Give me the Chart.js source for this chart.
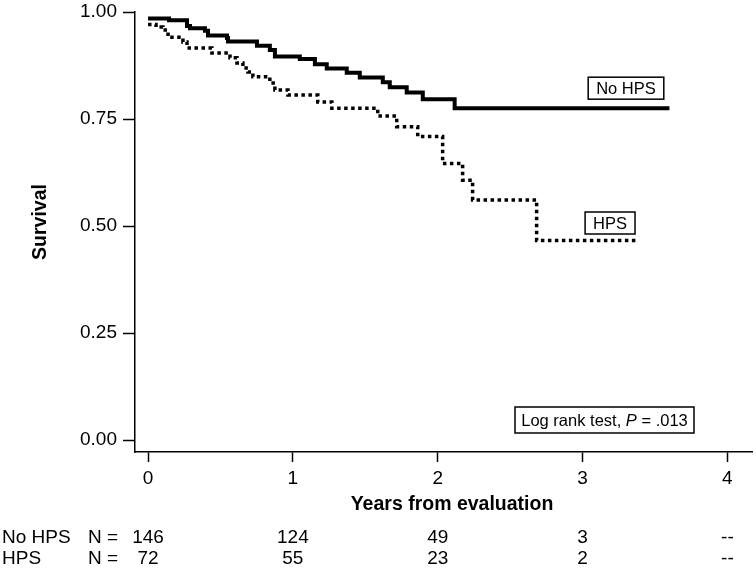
<!DOCTYPE html>
<html>
<head>
<meta charset="utf-8">
<script src="https://cdn.jsdelivr.net/npm/chart.js@4"></script>
<style>
  html, body { margin: 0; padding: 0; background: #fff; }
</style>
</head>
<body>
<canvas id="kmChart" width="756" height="570"></canvas>
<script>
// Kaplan-Meier steps (years from evaluation, survival)
var noHpsTimes = [0, 0.145, 0.269, 0.29, 0.393, 0.414, 0.545, 0.552, 0.752, 0.841, 0.876, 1.048, 1.152, 1.234, 1.372, 1.462, 1.621, 1.669, 1.786, 1.897, 2.117, 3.6];
var noHpsSurv = [0.985, 0.981, 0.967, 0.962, 0.956, 0.945, 0.939, 0.931, 0.921, 0.911, 0.896, 0.890, 0.878, 0.868, 0.858, 0.847, 0.836, 0.824, 0.812, 0.796, 0.775, 0.775];
var hpsTimes = [0, 0.055, 0.103, 0.138, 0.241, 0.269, 0.441, 0.566, 0.614, 0.655, 0.690, 0.724, 0.841, 0.876, 0.966, 1.172, 1.269, 1.586, 1.717, 1.862, 2.034, 2.172, 2.241, 2.683, 3.372];
var hpsSurv = [0.971, 0.965, 0.958, 0.941, 0.930, 0.916, 0.904, 0.893, 0.881, 0.869, 0.860, 0.849, 0.834, 0.818, 0.806, 0.790, 0.775, 0.757, 0.732, 0.709, 0.646, 0.607, 0.561, 0.466, 0.466];

// axes
var xTicks = [0, 1, 2, 3, 4];
var yTicks = [0, 0.25, 0.5, 0.75, 1];

// numbers at risk
var riskTimes = [0, 1, 2, 3, 4];
var riskNoHps = ['146', '124', '49', '3', '--'];
var riskHps = ['72', '55', '23', '2', '--'];

var family = "'Liberation Sans', Arial, Helvetica, sans-serif";

function toPoints(ts, vs) {
    return ts.map(function (t, i) { return { x: t, y: vs[i] }; });
}

function labelBox(c, text, cx, cy, h) {
    c.font = '16.5px ' + family;
    var w = c.measureText(text).width + 16;
    c.fillStyle = '#fff';
    c.fillRect(cx - w / 2, cy - h / 2, w, h);
    c.strokeStyle = '#000';
    c.lineWidth = 1.5;
    c.strokeRect(cx - w / 2, cy - h / 2, w, h);
    c.fillStyle = '#000';
    c.textAlign = 'center';
    c.textBaseline = 'middle';
    c.fillText(text, cx, cy + 1);
}

// titles, labels, log rank box and the at-risk table
var overlay = {
    id: 'overlay',
    afterDraw: function (chart) {
        var c = chart.ctx;
        var xs = chart.scales.x;
        var ys = chart.scales.y;
        c.save();
        c.fillStyle = '#000';
        c.font = 'bold 19.5px ' + family;
        c.textAlign = 'center';
        c.textBaseline = 'middle';
        c.fillText('Years from evaluation', 452, 505);

        c.save();
        c.translate(41, 222);
        c.rotate(-Math.PI / 2);
        c.fillText('Survival', 0, 0);
        c.restore();

        labelBox(c, 'No HPS', xs.getPixelForValue(3.3), ys.getPixelForValue(0.822), 22);
        labelBox(c, 'HPS', xs.getPixelForValue(3.19), ys.getPixelForValue(0.507), 22);

        // log rank box, P in italics
        var bx = 515, by = 407, bw = 179, bh = 26;
        c.fillStyle = '#fff';
        c.fillRect(bx, by, bw, bh);
        c.strokeStyle = '#000';
        c.lineWidth = 1.5;
        c.strokeRect(bx, by, bw, bh);
        c.fillStyle = '#000';
        c.textAlign = 'left';
        var parts = [['Log rank test, ', ''], ['P', 'italic '], [' = .013', '']];
        var tw = 0;
        parts.forEach(function (p) { c.font = p[1] + '16.5px ' + family; tw += c.measureText(p[0]).width; });
        var tx = bx + (bw - tw) / 2;
        parts.forEach(function (p) {
            c.font = p[1] + '16.5px ' + family;
            c.fillText(p[0], tx, by + bh / 2 + 1);
            tx += c.measureText(p[0]).width;
        });

        // at-risk table
        c.font = '19px ' + family;
        c.textAlign = 'left';
        c.fillText('No HPS', 2, 538);
        c.fillText('N =', 88, 538);
        c.fillText('HPS', 2, 559);
        c.fillText('N =', 88, 559);
        c.textAlign = 'center';
        riskTimes.forEach(function (t, i) {
            var px = xs.getPixelForValue(t);
            c.fillText(riskNoHps[i], px, 538);
            c.fillText(riskHps[i], px, 559);
        });
        c.restore();
    }
};

var ctx = document.getElementById('kmChart');
new Chart(ctx, {
    type: 'line',
    data: {
        datasets: [
            {
                label: 'No HPS',
                data: toPoints(noHpsTimes, noHpsSurv),
                borderColor: '#000',
                borderWidth: 4,
                stepped: 'before',
                pointRadius: 0,
                fill: false
            },
            {
                label: 'HPS',
                data: toPoints(hpsTimes, hpsSurv),
                borderColor: '#000',
                borderWidth: 3.5,
                borderDash: [3.5, 3.5],
                stepped: 'before',
                pointRadius: 0,
                fill: false
            }
        ]
    },
    options: {
        responsive: false,
        animation: false,
        layout: { padding: { left: 0, right: 4, top: 12, bottom: 0 } },
        plugins: {
            legend: { display: false },
            tooltip: { enabled: false }
        },
        scales: {
            x: {
                type: 'linear',
                min: -0.09,
                max: 4.17,
                afterBuildTicks: function (s) { s.ticks = xTicks.map(function (v) { return { value: v }; }); },
                afterFit: function (s) {
                    s.height = 118;
                    s.paddingLeft = 0;
                    s.paddingRight = 0;
                },
                ticks: {
                    autoSkip: false,
                    maxRotation: 0,
                    padding: 5,
                    color: '#000',
                    font: { family: family, size: 19 },
                    callback: function (v) { return String(v); }
                },
                grid: { drawOnChartArea: false, drawTicks: true, tickLength: 10, tickColor: '#000', tickWidth: 1.5 },
                border: { display: true, color: '#000', width: 1.5 }
            },
            y: {
                min: -0.028,
                max: 1.0,
                afterBuildTicks: function (s) { s.ticks = yTicks.map(function (v) { return { value: v }; }); },
                afterFit: function (s) {
                    s.width = 135;
                    s.paddingTop = 0;
                    s.paddingBottom = 0;
                },
                ticks: {
                    autoSkip: false,
                    padding: 6,
                    color: '#000',
                    font: { family: family, size: 19 },
                    callback: function (v) { return Number(v).toFixed(2); }
                },
                grid: { drawOnChartArea: false, drawTicks: true, tickLength: 12, tickColor: '#000', tickWidth: 1.5 },
                border: { display: true, color: '#000', width: 1.5 }
            }
        }
    },
    plugins: [overlay]
});
</script>
</body>
</html>
